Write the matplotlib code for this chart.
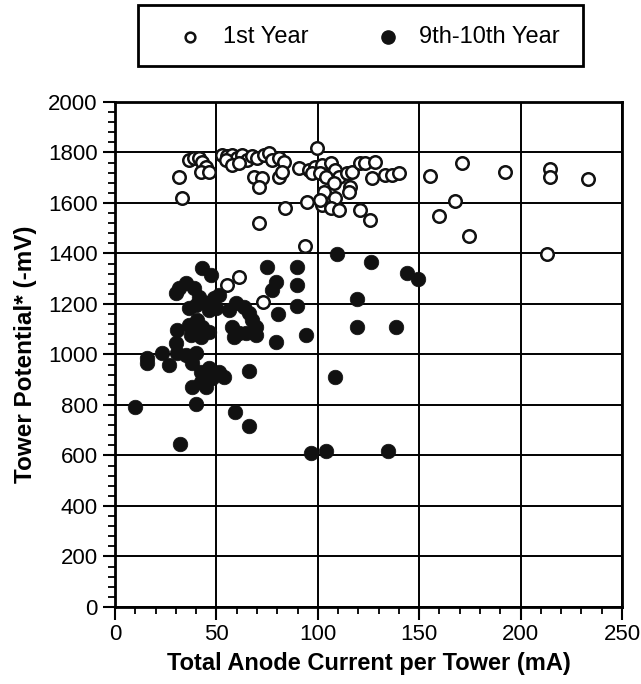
import matplotlib.pyplot as plt
from matplotlib.lines import Line2D
from matplotlib.patches import Rectangle
from matplotlib.ticker import MultipleLocator

plt.rcParams['font.family'] = ['Liberation Sans', 'DejaVu Sans']

# 1st year readings: anode current (mA), tower potential (-mV)
yr1_x = [31.5, 33.2, 36.5, 38.9, 41.4, 43.0, 44.7, 42.2, 46.3,
         52.9, 55.3, 57.8, 60.2, 62.7, 65.2, 67.6, 70.1, 73.4, 75.9, 77.5, 80.8, 83.3,
         54.5, 57.8, 61.1,
         68.5, 72.6, 70.9, 80.8, 82.4,
         83.7, 70.9, 93.9,
         99.7, 90.6, 95.6, 98.8, 102.1, 106.3, 97.2, 101.3, 108.7,
         103.8, 110.3, 107.9, 103.0, 108.7, 102.1, 106.3, 110.3, 94.7, 101.3,
         114.4, 116.9, 121.0, 123.4, 128.4, 126.7, 116.1, 115.3, 133.3, 136.6, 139.9,
         121.0, 125.9,
         155.5, 171.1, 192.1, 214.6, 214.6, 233.2, 167.8, 159.6, 174.4, 213.0,
         61.1, 55.3, 73.0]
yr1_y = [1704, 1619, 1770, 1777, 1777, 1764, 1744, 1724, 1724,
         1790, 1784, 1790, 1777, 1790, 1770, 1784, 1777, 1790, 1797, 1770, 1777, 1764,
         1770, 1750, 1757,
         1704, 1698, 1665, 1704, 1724,
         1579, 1520, 1431,
         1817, 1737, 1731, 1744, 1750, 1757, 1717, 1717, 1731,
         1704, 1704, 1678, 1645, 1619, 1592, 1579, 1572, 1605, 1612,
         1717, 1724, 1757, 1757, 1764, 1698, 1665, 1645, 1711, 1711, 1717,
         1572, 1533,
         1707, 1757, 1724, 1733, 1704, 1695, 1609, 1550, 1470, 1398,
         1308, 1275, 1207]

# 9th-10th year readings
yr9_x = [43.0, 47.1, 75.0, 89.5, 79.2, 77.5, 89.5, 89.5,
         109.5, 126.0, 144.0, 149.3, 119.4, 119.4, 138.8, 94.0, 80.3, 79.2, 108.7,
         66.0, 59.1, 66.0, 9.9, 40.0, 31.9, 96.4, 104.1, 134.6,
         31.5, 34.8, 38.9, 29.9, 41.4, 48.8, 51.2,
         36.5, 39.7, 46.3, 49.6, 44.7,
         56.2, 59.5, 63.5, 66.0, 67.6,
         69.3, 69.3, 64.4, 61.1, 58.6, 57.8,
         30.7, 29.9, 36.5, 37.3, 40.5, 43.0, 46.3, 42.2,
         15.9, 15.9, 23.3, 26.6, 30.7, 34.8, 39.7,
         38.1, 42.2, 46.3, 51.2, 53.7, 47.9, 42.2, 38.1, 44.7]
yr9_y = [1341, 1315, 1348, 1348, 1288, 1255, 1275, 1192,
         1398, 1368, 1322, 1299, 1220, 1110, 1110, 1077, 1159, 1051, 912,
         934, 773, 717, 793, 804, 646, 611, 618, 618,
         1262, 1282, 1262, 1242, 1229, 1222, 1236,
         1183, 1196, 1176, 1183, 1203,
         1176, 1203, 1189, 1163, 1137,
         1110, 1077, 1084, 1084, 1070, 1110,
         1097, 1044, 1117, 1077, 1137, 1110, 1090, 1070,
         985, 965, 1005, 958, 1005, 998, 1005,
         965, 932, 945, 932, 912, 906, 892, 872, 872]

labels = ['1st Year', '9th-10th Year']

fig = plt.figure(figsize=(6.41, 6.84), dpi=100)
ax = fig.add_axes([0.1794, 0.1126, 0.7910, 0.7384])

ax.plot(yr1_x, yr1_y, 'o', ms=9, mfc='white', mec='#111111', mew=1.8,
        linestyle='none', zorder=3)
ax.plot(yr9_x, yr9_y, 'o', ms=10.5, mfc='#111111', mec='#111111', mew=0.5,
        linestyle='none', zorder=4)

ax.set_xlim(0, 250)
ax.set_ylim(0, 2000)
ax.xaxis.set_major_locator(MultipleLocator(50))
ax.xaxis.set_minor_locator(MultipleLocator(10))
ax.yaxis.set_major_locator(MultipleLocator(200))
ax.yaxis.set_minor_locator(MultipleLocator(40))
ax.grid(True, which='major', color='black', linewidth=1.4)
ax.set_axisbelow(True)
for s in ax.spines.values():
    s.set_linewidth(2)
ax.tick_params(which='major', direction='out', length=9, width=1.5,
               labelsize=16, colors='black')
ax.tick_params(which='minor', direction='out', length=5, width=1.3)

ax.set_xlabel('Total Anode Current per Tower (mA)', fontsize=17,
              fontweight='bold', labelpad=5)
ax.set_ylabel('Tower Potential* (-mV)', fontsize=17.5, fontweight='bold',
              labelpad=8)

# key box above the plot
fig.patches.append(Rectangle((0.2153, 0.9035), 0.6942, 0.0892,
                             transform=fig.transFigure, fill=False,
                             edgecolor='black', linewidth=2))
key_y = 0.9459
fig.add_artist(Line2D([0.2964], [key_y], transform=fig.transFigure,
                      marker='o', ls='none', ms=7, mfc='white',
                      mec='#111111', mew=1.8))
fig.add_artist(Line2D([0.6053], [key_y], transform=fig.transFigure,
                      marker='o', ls='none', ms=9.5, mfc='#111111',
                      mec='#111111'))
fig.text(0.3479, key_y, labels[0], fontsize=17, va='center', ha='left')
fig.text(0.6537, key_y, labels[1], fontsize=17, va='center', ha='left')

fig.savefig('out.png', dpi=100)
